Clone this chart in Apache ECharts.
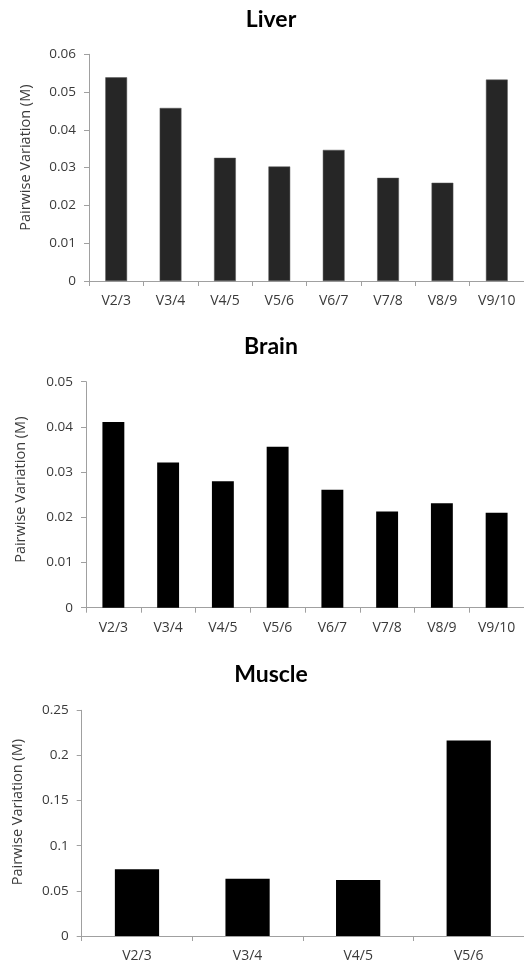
<!DOCTYPE html>
<html>
<head>
<meta charset="utf-8">
<script src="https://cdn.jsdelivr.net/npm/echarts@6/dist/echarts.min.js"></script>
<style>
html,body{margin:0;padding:0;background:#fff;}
#main{width:524px;height:965px;}
</style>
</head>
<body>
<div id="main"></div>
<script>
const titles = ['Liver', 'Brain', 'Muscle'];
const yAxisName = 'Pairwise Variation (M)';
const liverCategories = ['V2/3', 'V3/4', 'V4/5', 'V5/6', 'V6/7', 'V7/8', 'V8/9', 'V9/10'];
const liverValues = [0.0539, 0.0458, 0.0326, 0.0303, 0.0347, 0.0273, 0.0260, 0.0533];
const brainCategories = ['V2/3', 'V3/4', 'V4/5', 'V5/6', 'V6/7', 'V7/8', 'V8/9', 'V9/10'];
const brainValues = [0.0411, 0.0321, 0.0280, 0.0356, 0.0261, 0.0213, 0.0231, 0.0210];
const muscleCategories = ['V2/3', 'V3/4', 'V4/5', 'V5/6'];
const muscleValues = [0.0739, 0.0635, 0.0621, 0.2165];
const yMax = [0.06, 0.05, 0.25];
const yInterval = [0.01, 0.01, 0.05];

const FONT = '"Open Sans", sans-serif';
const TEXT = '#3a3a3a';
const AXIS = '#a0a0a0';

const grids = [
  {left: 89, top: 54.3, width: 437.6, height: 226.7},
  {left: 86, top: 381.7, width: 440, height: 226},
  {left: 81.7, top: 710.3, width: 445, height: 225.7}
];
const titleTops = [8.5, 335, 663];
const nameGaps = [56, 58, 56];
const nameShift = [20, 10, 22];
const cats = [liverCategories, brainCategories, muscleCategories];
const vals = [liverValues, brainValues, muscleValues];
const barColors = ['#262626', '#000000', '#000000'];

const chart = echarts.init(document.getElementById('main'), null, {renderer: 'canvas'});
const option = {
  backgroundColor: '#ffffff',
  animation: false,
  title: titles.map((t, i) => ({
    text: t,
    left: 271,
    top: titleTops[i],
    textAlign: 'center',
    padding: 0,
    textStyle: {fontFamily: 'Lato', fontWeight: 'bold', fontSize: 23, color: '#000'}
  })),
  grid: grids.map(g => Object.assign({containLabel: false}, g)),
  xAxis: cats.map((c, i) => ({
    type: 'category',
    gridIndex: i,
    data: c,
    boundaryGap: true,
    axisLine: {show: true, lineStyle: {color: AXIS, width: 1}},
    axisTick: {show: true, length: 5, lineStyle: {color: AXIS}},
    axisLabel: {color: TEXT, fontFamily: FONT, fontSize: 14, margin: 13, interval: 0},
    splitLine: {show: false}
  })),
  yAxis: vals.map((v, i) => ({
    type: 'value',
    gridIndex: i,
    min: 0,
    max: yMax[i],
    interval: yInterval[i],
    name: yAxisName,
    nameLocation: 'middle',
    nameGap: nameGaps[i],
    nameTextStyle: {color: TEXT, fontFamily: FONT, fontSize: 14.5, padding: [0, 0, 0, nameShift[i]]},
    axisLine: {show: true, lineStyle: {color: AXIS, width: 1}},
    axisTick: {show: true, length: 5, lineStyle: {color: AXIS}},
    axisLabel: {color: TEXT, fontFamily: FONT, fontSize: 13.5, margin: 13,
      formatter: val => String(+val.toFixed(4))},
    splitLine: {show: false}
  })),
  series: vals.map((v, i) => ({
    type: 'bar',
    xAxisIndex: i,
    yAxisIndex: i,
    data: v,
    barWidth: '40%',
    itemStyle: {color: barColors[i], borderColor: '#555', borderWidth: i === 0 ? 0.5 : 0}
  }))
};
chart.setOption(option);
</script>
</body>
</html>
